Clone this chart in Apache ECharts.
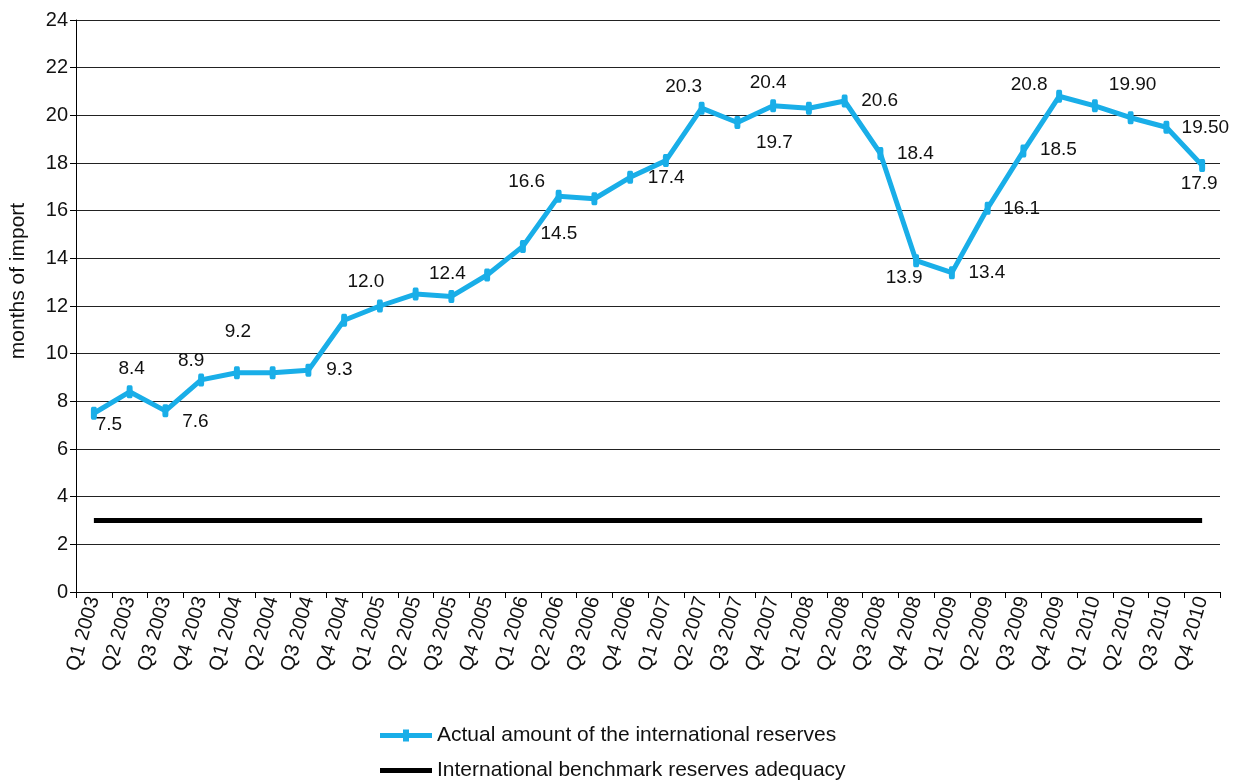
<!DOCTYPE html>
<html>
<head>
<meta charset="utf-8">
<script src="https://cdn.jsdelivr.net/npm/echarts@6.0.0/dist/echarts.min.js"></script>
<style>
html,body{margin:0;padding:0;background:#fff;}
#chart{width:1237px;height:781px;}
</style>
</head>
<body>
<div id="chart"></div>
<script>
// ---- data ----
const categories = [
  'Q1 2003','Q2 2003','Q3 2003','Q4 2003',
  'Q1 2004','Q2 2004','Q3 2004','Q4 2004',
  'Q1 2005','Q2 2005','Q3 2005','Q4 2005',
  'Q1 2006','Q2 2006','Q3 2006','Q4 2006',
  'Q1 2007','Q2 2007','Q3 2007','Q4 2007',
  'Q1 2008','Q2 2008','Q3 2008','Q4 2008',
  'Q1 2009','Q2 2009','Q3 2009','Q4 2009',
  'Q1 2010','Q2 2010','Q3 2010','Q4 2010'
];
const actualReserves = [
  7.5, 8.4, 7.6, 8.9,
  9.2, 9.2, 9.3, 11.4,
  12.0, 12.5, 12.4, 13.3,
  14.5, 16.6, 16.5, 17.4,
  18.1, 20.3, 19.7, 20.4,
  20.3, 20.6, 18.4, 13.9,
  13.4, 16.1, 18.5, 20.8,
  20.4, 19.9, 19.5, 17.9
];
const benchmark = [
  3, 3, 3, 3, 3, 3, 3, 3,
  3, 3, 3, 3, 3, 3, 3, 3,
  3, 3, 3, 3, 3, 3, 3, 3,
  3, 3, 3, 3, 3, 3, 3, 3
];
const labelTexts = [
  '7.5', '8.4', '7.6', '8.9',
  '9.2', null, '9.3', null,
  '12.0', null, '12.4', null,
  '14.5', '16.6', null, '17.4',
  null, '20.3', '19.7', '20.4',
  null, '20.6', '18.4', '13.9',
  '13.4', '16.1', '18.5', '20.8',
  null, '19.90', '19.50', '17.9'
];
const yTicks = { min: 0, max: 24, interval: 2 };
const seriesNames = ['Actual amount of the international reserves', 'International benchmark reserves adequacy'];
const yAxisTitle = 'months of import';

// ---- label placement (style, px offsets from point) ----
const labelOffsets = {
  0: [15, 12], 1: [2, -23], 2: [30, 11], 3: [-10, -19], 4: [1, -41],
  6: [31, -1], 8: [-14, -24], 10: [-4, -23], 12: [36, -13], 13: [-32, -15],
  15: [36, 0], 17: [-18, -21], 18: [37, 20], 19: [-5, -23], 21: [35, 0],
  22: [35, 0], 23: [-12, 17], 24: [35, 0], 25: [34, 0], 26: [35, -1],
  27: [-30, -12], 29: [2, -33], 30: [39, 1], 31: [-3, 18]
};

const FONT = 'Liberation Sans, Arial, sans-serif';
const BLUE = '#19aee8';

const actualData = actualReserves.map((v, i) => {
  const txt = labelTexts[i];
  if (!txt) return { value: v, label: { show: false } };
  const off = labelOffsets[i] || [0, 0];
  return {
    value: v,
    label: {
      show: true,
      position: 'inside',
      offset: off,
      formatter: txt,
      color: '#111',
      fontSize: 19,
      fontFamily: FONT,
      align: 'center',
      verticalAlign: 'middle'
    }
  };
});

const legendText = { color: '#111', fontSize: 21, fontFamily: FONT };

const chart = echarts.init(document.getElementById('chart'), null, { renderer: 'canvas' });
chart.setOption({
  animation: false,
  backgroundColor: '#fff',
  grid: { left: 76, right: 17, top: 20, bottom: 189, containLabel: false },
  xAxis: {
    type: 'category',
    data: categories,
    boundaryGap: true,
    axisLine: { show: true, lineStyle: { color: '#000', width: 1 } },
    axisTick: { show: true, length: 6, lineStyle: { color: '#000' } },
    axisLabel: {
      rotate: 74, interval: 0, margin: 5,
      color: '#111', fontSize: 20, fontFamily: FONT
    },
    splitLine: { show: false }
  },
  yAxis: {
    type: 'value',
    min: yTicks.min, max: yTicks.max, interval: yTicks.interval,
    axisLine: { show: true, lineStyle: { color: '#000', width: 1 } },
    axisTick: { show: true, length: 6, lineStyle: { color: '#000' } },
    axisLabel: { margin: 8, color: '#111', fontSize: 20, fontFamily: FONT },
    splitLine: { show: true, lineStyle: { color: '#222', width: 1 } }
  },
  legend: [
    {
      left: 375, top: 720, padding: 5,
      itemWidth: 52, itemHeight: 12,
      textStyle: legendText,
      data: [{
        name: seriesNames[0],
        icon: 'path://M0,3.5 L52,3.5 L52,8.5 L0,8.5 Z M23,0 L29,0 L29,12 L23,12 Z'
      }]
    },
    {
      left: 375, top: 755, padding: 5,
      itemWidth: 52, itemHeight: 5,
      textStyle: legendText,
      data: [{ name: seriesNames[1], icon: 'rect' }]
    }
  ],
  graphic: [{
    type: 'text',
    x: 18, y: 281,
    rotation: Math.PI / 2,
    style: {
      text: yAxisTitle,
      fontSize: 21,
      fontFamily: FONT,
      fill: '#111',
      align: 'center',
      verticalAlign: 'middle'
    }
  }],
  series: [
    {
      name: seriesNames[0],
      type: 'line',
      data: actualData,
      symbol: 'roundRect',
      symbolSize: [6, 13],
      showAllSymbol: true,
      lineStyle: { color: BLUE, width: 5 },
      itemStyle: { color: BLUE },
      z: 3
    },
    {
      name: seriesNames[1],
      type: 'line',
      data: benchmark,
      symbol: 'none',
      lineStyle: { color: '#000', width: 5 },
      itemStyle: { color: '#000' },
      z: 2
    }
  ]
});
</script>
</body>
</html>
